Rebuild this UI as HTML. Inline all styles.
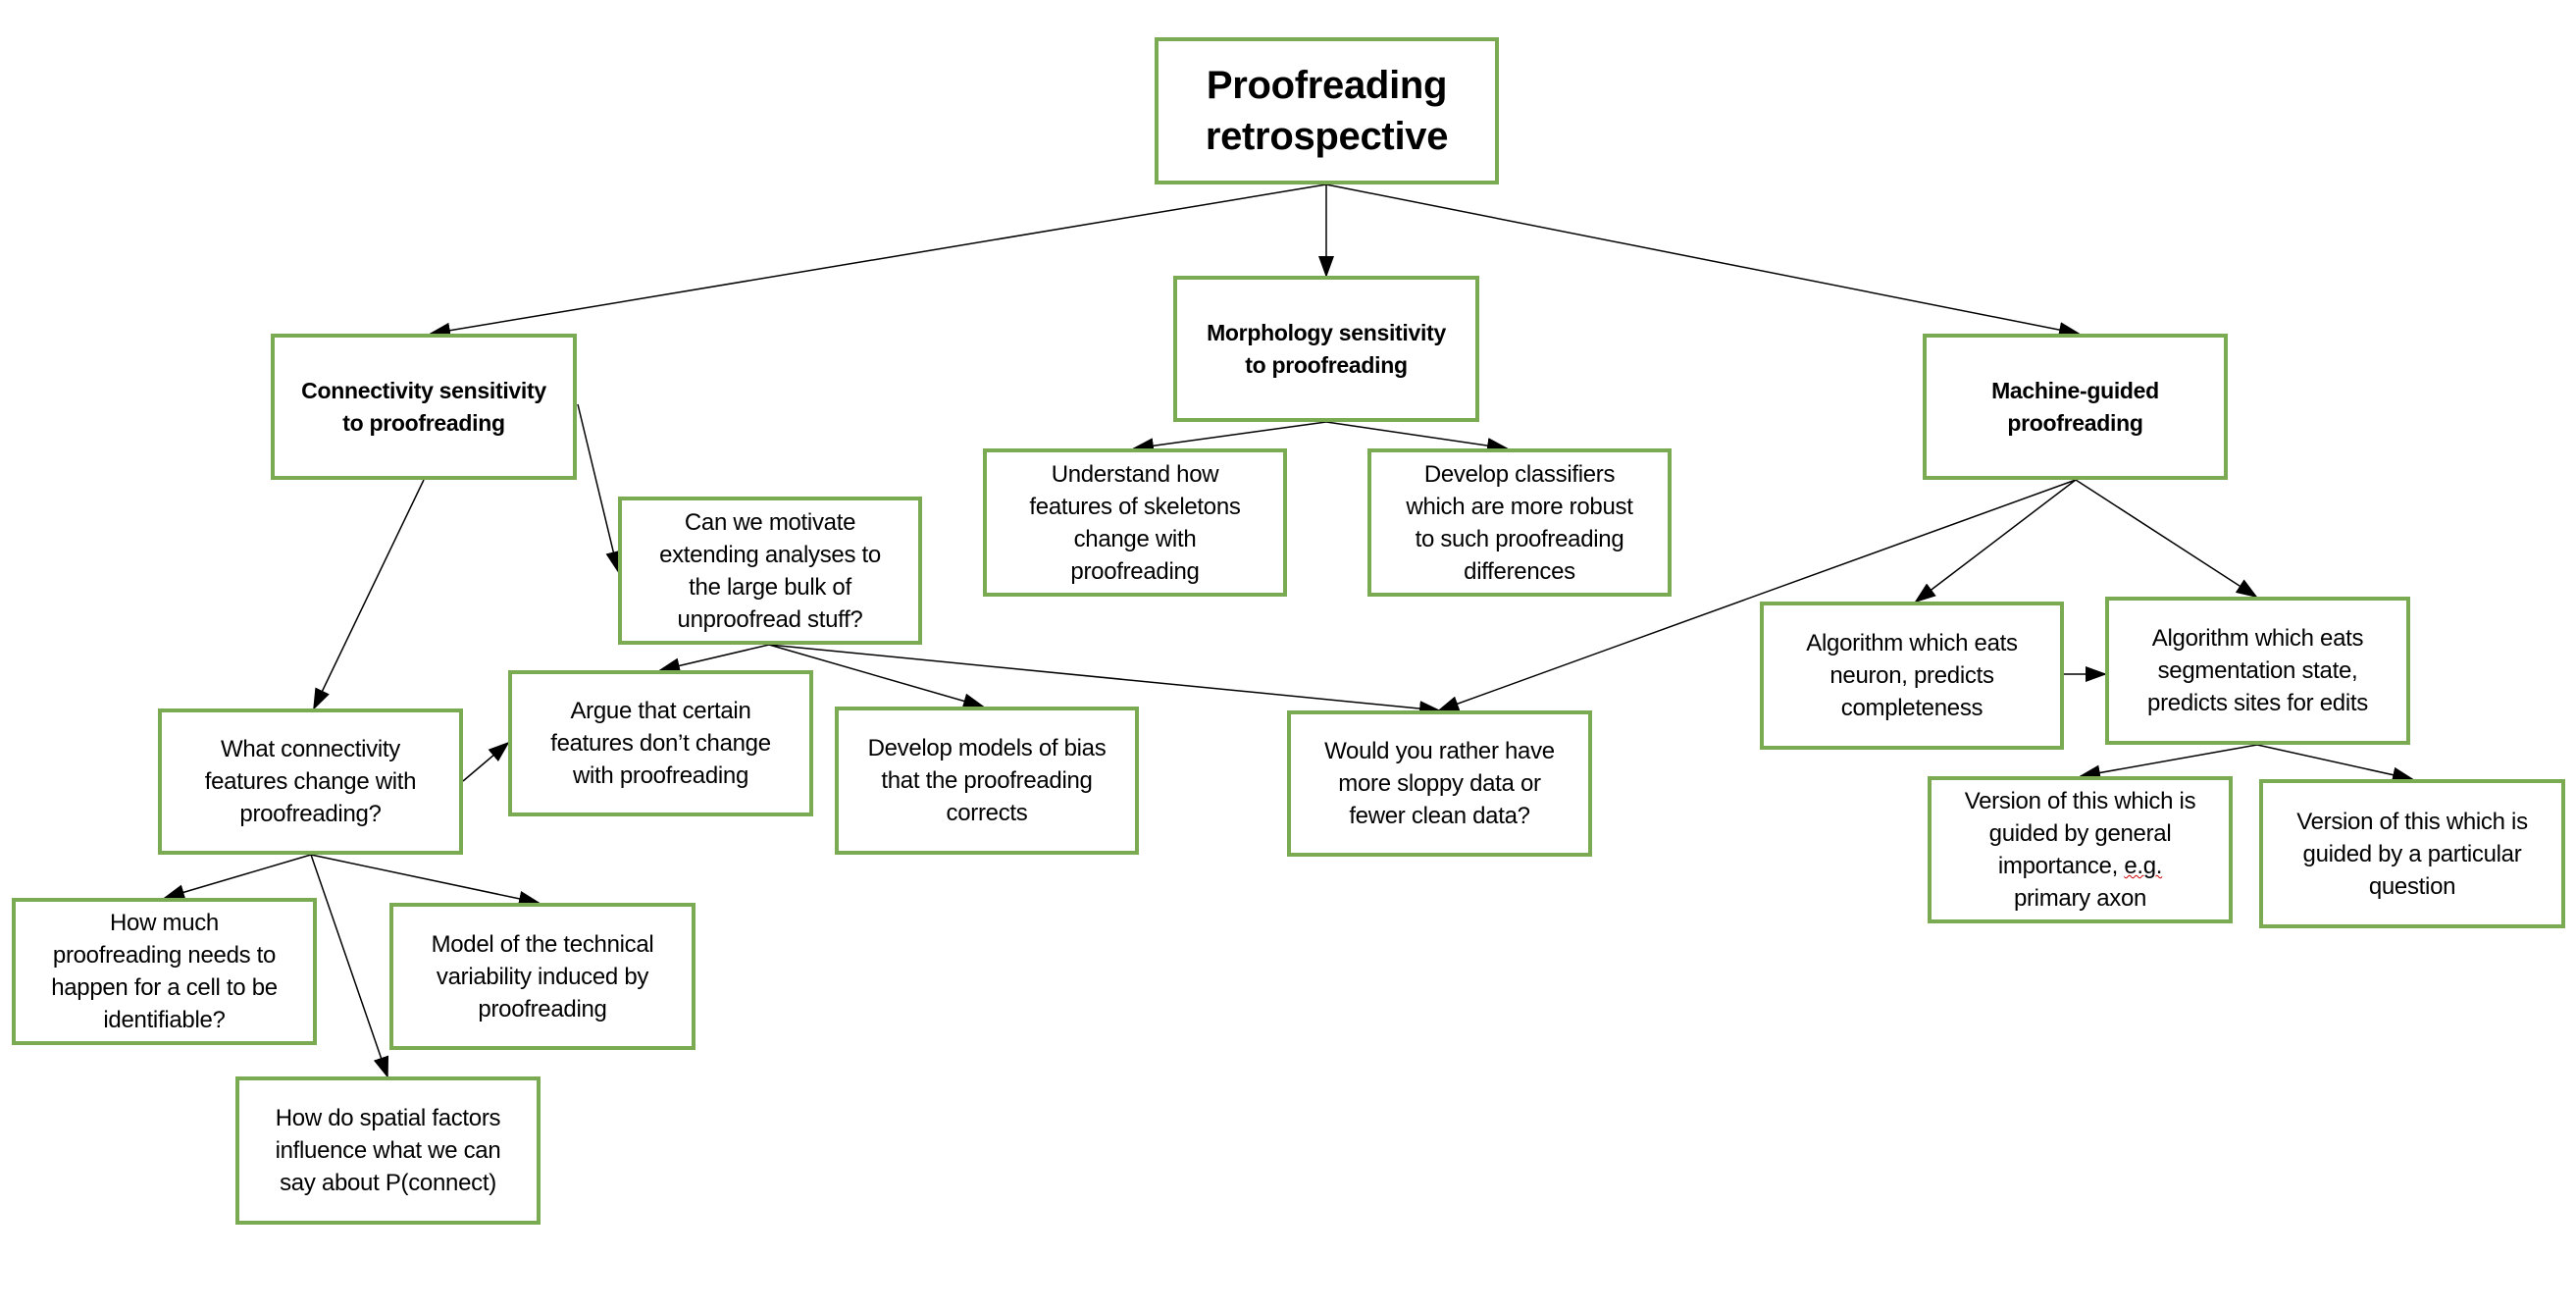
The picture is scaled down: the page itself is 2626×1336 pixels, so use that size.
<!DOCTYPE html>
<html><head><meta charset="utf-8"><style>
html,body{margin:0;padding:0;background:#fff;}
#c{position:relative;width:2626px;height:1336px;overflow:hidden;background:#fff;}
.b{position:absolute;box-sizing:border-box;border:4px solid #7aab52;display:flex;align-items:center;justify-content:center;text-align:center;font-family:"Liberation Sans",sans-serif;font-size:24px;line-height:33px;color:#000;padding:0 6px;background:#fff;letter-spacing:-0.3px;}
.b>div{width:100%;}
.h{font-weight:bold;font-size:23px;white-space:nowrap;}
.t{font-size:40px;line-height:52px;font-weight:bold;}
svg{position:absolute;left:0;top:0;}
.sq{text-decoration:underline wavy #c00;text-decoration-thickness:1px;}
</style></head><body><div id="c">
<svg width="2626" height="1336">
<defs><marker id="a" markerUnits="userSpaceOnUse" markerWidth="22" markerHeight="16" refX="20" refY="8" orient="auto"><path d="M0,0 L22,8 L0,16 Z" fill="#000"/></marker></defs>
<g stroke="#000" stroke-width="1.5" fill="none" marker-end="url(#a)">
<line x1="1352" y1="188" x2="439" y2="340"/>
<line x1="1352" y1="188" x2="1352" y2="281"/>
<line x1="1352" y1="188" x2="2119" y2="340"/>
<line x1="589" y1="412" x2="630" y2="582"/>
<line x1="432" y1="489" x2="320" y2="722"/>
<line x1="1352" y1="430" x2="1156" y2="457"/>
<line x1="1352" y1="430" x2="1536" y2="457"/>
<line x1="784" y1="657" x2="673" y2="683"/>
<line x1="784" y1="657" x2="1002" y2="720"/>
<line x1="784" y1="657" x2="1467" y2="724"/>
<line x1="2116" y1="489" x2="1467" y2="724"/>
<line x1="2116" y1="489" x2="1953" y2="613"/>
<line x1="2116" y1="489" x2="2300" y2="608"/>
<line x1="2104" y1="687" x2="2146" y2="687"/>
<line x1="2301" y1="759" x2="2121" y2="791"/>
<line x1="2301" y1="759" x2="2459" y2="794"/>
<line x1="472" y1="796" x2="518" y2="757"/>
<line x1="317" y1="871" x2="168" y2="915"/>
<line x1="317" y1="871" x2="395" y2="1097"/>
<line x1="317" y1="871" x2="549" y2="920"/>
</g></svg>
<div class="b t" style="left:1177px;top:38px;width:351px;height:150px;"><div>Proofreading<br>retrospective</div></div>
<div class="b h" style="left:276px;top:340px;width:312px;height:149px;"><div>Connectivity sensitivity<br>to proofreading</div></div>
<div class="b h" style="left:1196px;top:281px;width:312px;height:149px;"><div>Morphology sensitivity<br>to proofreading</div></div>
<div class="b h" style="left:1960px;top:340px;width:311px;height:149px;"><div>Machine-guided<br>proofreading</div></div>
<div class="b" style="left:1002px;top:457px;width:310px;height:151px;"><div>Understand how<br>features of skeletons<br>change with<br>proofreading</div></div>
<div class="b" style="left:1394px;top:457px;width:310px;height:151px;"><div>Develop classifiers<br>which are more robust<br>to such proofreading<br>differences</div></div>
<div class="b" style="left:630px;top:506px;width:310px;height:151px;"><div>Can we motivate<br>extending analyses to<br>the large bulk of<br>unproofread stuff?</div></div>
<div class="b" style="left:518px;top:683px;width:311px;height:149px;"><div>Argue that certain<br>features don’t change<br>with proofreading</div></div>
<div class="b" style="left:851px;top:720px;width:310px;height:151px;"><div>Develop models of bias<br>that the proofreading<br>corrects</div></div>
<div class="b" style="left:1312px;top:724px;width:311px;height:149px;"><div>Would you rather have<br>more sloppy data or<br>fewer clean data?</div></div>
<div class="b" style="left:161px;top:722px;width:311px;height:149px;"><div>What connectivity<br>features change with<br>proofreading?</div></div>
<div class="b" style="left:1794px;top:613px;width:310px;height:151px;"><div>Algorithm which eats<br>neuron, predicts<br>completeness</div></div>
<div class="b" style="left:2146px;top:608px;width:311px;height:151px;"><div>Algorithm which eats<br>segmentation state,<br>predicts sites for edits</div></div>
<div class="b" style="left:1965px;top:791px;width:311px;height:150px;"><div>Version of this which is<br>guided by general<br>importance, <span class="sq">e.g.</span><br>primary axon</div></div>
<div class="b" style="left:2303px;top:794px;width:312px;height:152px;"><div>Version of this which is<br>guided by a particular<br>question</div></div>
<div class="b" style="left:12px;top:915px;width:311px;height:150px;"><div>How much<br>proofreading needs to<br>happen for a cell to be<br>identifiable?</div></div>
<div class="b" style="left:397px;top:920px;width:312px;height:150px;"><div>Model of the technical<br>variability induced by<br>proofreading</div></div>
<div class="b" style="left:240px;top:1097px;width:311px;height:151px;"><div>How do spatial factors<br>influence what we can<br>say about P(connect)</div></div>
</div></body></html>
